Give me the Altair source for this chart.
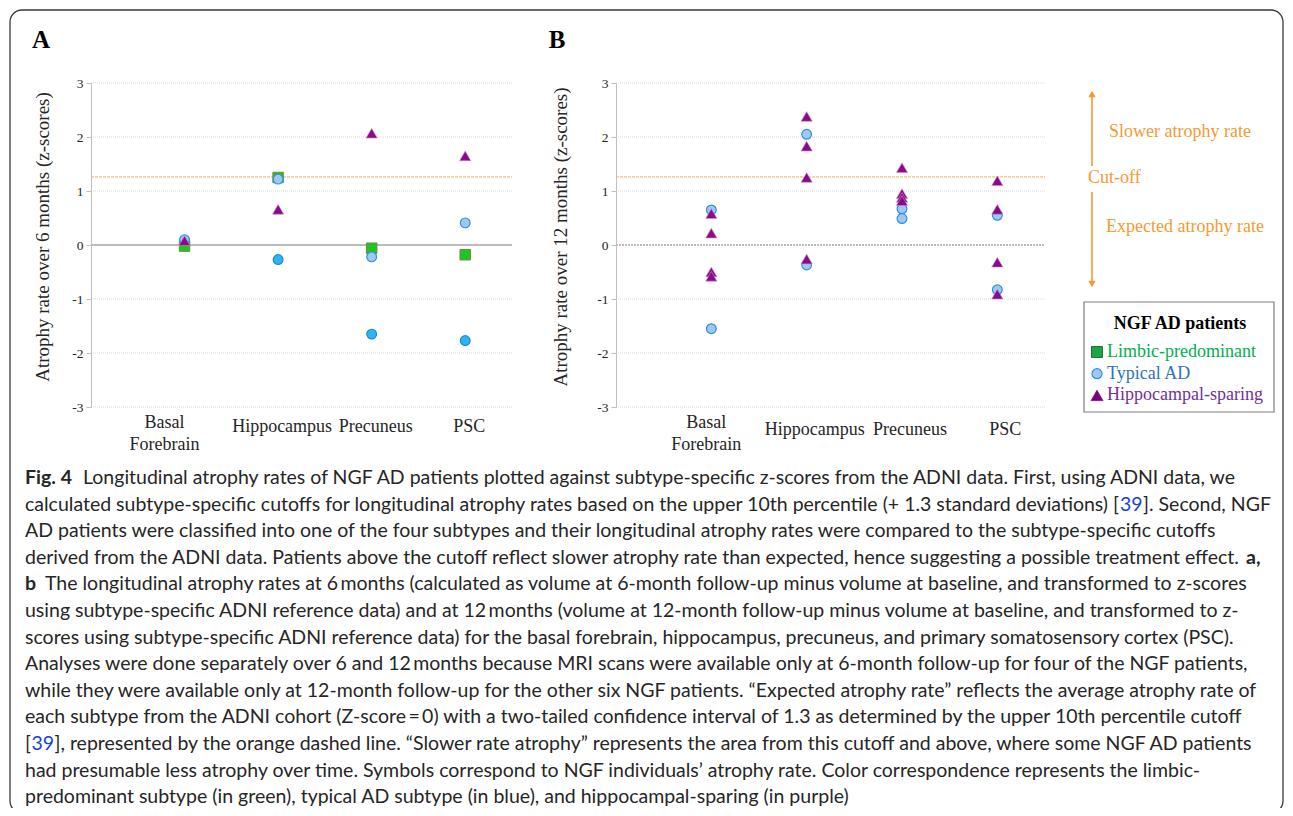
import altair as alt
import pandas as pd

# ---------------- data ----------------
regions = ["Basal Forebrain", "Hippocampus", "Precuneus", "PSC"]
region_pos = [1, 2, 3, 4]
y_ticks = [-3, -2, -1, 0, 1, 2, 3]
grid_ticks = [-3, -2, -1, 1, 2, 3]
cutoff_z = 1.26

# Panel A - atrophy rate over 6 months (one value per region, None = not shown)
a_limbic = [-0.02, 1.25, -0.06, -0.18]
a_typical_1 = [0.10, 1.22, -0.22, 0.41]
a_typical_2 = [None, -0.27, -1.65, -1.77]
a_sparing = [0.08, 0.66, 2.07, 1.65]

# Panel B - atrophy rate over 12 months (several patients per region)
b_typical_basal = [0.65, -1.55]
b_typical_hippo = [2.05, -0.37]
b_typical_prec = [0.67, 0.49]
b_typical_psc = [0.55, -0.83]
b_sparing_basal = [0.58, 0.22, -0.50, -0.58]
b_sparing_hippo = [2.38, 1.83, 1.25, -0.26]
b_sparing_prec = [1.43, 0.95, 0.88, 0.82]
b_sparing_psc = [1.19, 0.66, -0.32, -0.91]

legend_items = ["Limbic-predominant", "Typical AD", "Hippocampal-sparing"]

# ---------------- styles ----------------
SERIF = "Liberation Serif"
CAPF = "Lato"
CAPSIZE = 19.5
INK = "#262626"
ORANGE = "#F59A33"
SQ_FILL, SQ_STROKE = "#22C322", "#6E8B3D"
C1_FILL, C1_STROKE = "#9DC8F2", "#2F8FDF"
C2_FILL, C2_STROKE = "#2DB5F3", "#1C8AD6"
TRI_FILL = "#8B0A8B"


def one_row():
    return pd.DataFrame({"k": [0]})


def series_df(values):
    return pd.DataFrame(
        [{"pos": p, "z": v} for p, v in zip(region_pos, values) if v is not None]
    )


def multi_df(groups):
    rows = []
    for p, vals in zip(region_pos, groups):
        for v in vals:
            rows.append({"pos": p, "z": v})
    return pd.DataFrame(rows)


def panel(x_range, axis_offset, point_layers, zero_dash, basal_dx, other_dx, lab_y):
    xs = alt.Scale(domain=[0, 4.5], range=x_range)
    ys = alt.Scale(domain=[-3, 3], range=[399, 75], nice=False, zero=False)
    yaxis = alt.Axis(
        orient="left", offset=axis_offset, values=y_ticks, grid=False, title=None,
        domainColor="#BFBFBF", tickColor="#BFBFBF", tickSize=5, labelPadding=3,
        labelFont=SERIF, labelFontSize=13.5, labelColor="#262626", zindex=1,
        labelExpr="'' + datum.value",
    )

    def Y(field="z"):
        return alt.Y(f"{field}:Q", scale=ys, axis=yaxis)

    xa = dict(scale=xs, axis=None)

    grid = alt.Chart(pd.DataFrame({"z": grid_ticks})).mark_rule(
        color="#D9D9D9", strokeDash=[1, 1], strokeWidth=1
    ).encode(y=Y(), x=alt.X(datum=0, **xa), x2=alt.X2(datum=4.5))

    zero = alt.Chart(pd.DataFrame({"z": [0]})).mark_rule(
        color="#A6A6A6", strokeWidth=1.5, strokeDash=zero_dash
    ).encode(y=Y(), x=alt.X(datum=0, **xa), x2=alt.X2(datum=4.5))

    cut = alt.Chart(pd.DataFrame({"z": [cutoff_z]})).mark_rule(
        color="#F9BE74", strokeWidth=1.3, strokeDash=[3, 1]
    ).encode(y=Y(), x=alt.X(datum=0, **xa), x2=alt.X2(datum=4.5))

    layers = [grid, zero, cut]
    for df, style in point_layers:
        layers.append(
            alt.Chart(df).mark_point(filled=True, opacity=1, **style).encode(
                x=alt.X("pos:Q", **xa), y=Y()
            )
        )

    lab_df = pd.DataFrame({"pos": region_pos, "label": regions})
    first = alt.Chart(lab_df[lab_df.pos == 1]).transform_calculate(
        lab="replace(datum.label, ' ', '\\n')"
    ).mark_text(
        font=SERIF, fontSize=18, color=INK, lineBreak="\n", lineHeight=22,
        baseline="middle", dx=basal_dx,
    ).encode(x=alt.X("pos:Q", **xa), y=alt.value(415), text="lab:N")
    others = alt.Chart(lab_df[lab_df.pos > 1]).mark_text(
        font=SERIF, fontSize=18, color=INK, baseline="middle", dx=other_dx,
    ).encode(x=alt.X("pos:Q", **xa), y=alt.value(lab_y), text="label:N")
    layers += [first, others]
    return alt.layer(*layers)


sq_style = dict(shape="square", size=110, fill=SQ_FILL, stroke=SQ_STROKE, strokeWidth=1)
c1_style = dict(shape="circle", size=95, fill=C1_FILL, stroke=C1_STROKE, strokeWidth=1.2)
c2_style = dict(shape="circle", size=95, fill=C2_FILL, stroke=C2_STROKE, strokeWidth=1.2)
tri_style = dict(shape="triangle-up", size=125, fill=TRI_FILL, stroke="#C98FC9", strokeWidth=0.6)

panel_a = panel(
    [83, 504], -83,
    [
        (series_df(a_limbic), sq_style),
        (series_df(a_typical_2), c2_style),
        (series_df(a_typical_1), c1_style),
        (series_df(a_sparing), tri_style),
    ],
    [1, 0], -20, 4, 419,
)

panel_b = panel(
    [608, 1037], -608,
    [
        (multi_df([b_typical_basal, b_typical_hippo, b_typical_prec, b_typical_psc]), c1_style),
        (multi_df([b_sparing_basal, b_sparing_hippo, b_sparing_prec, b_sparing_psc]), tri_style),
    ],
    [2, 1], -5, 8, 422,
)


# ---------------- decorations / text ----------------
def txt(text, x, y, **kw):
    style = dict(font=SERIF, fontSize=18, color=INK, align="left", baseline="middle")
    style.update(kw)
    return alt.Chart(one_row()).mark_text(text=text, **style).encode(
        x=alt.value(x), y=alt.value(y)
    )


deco = []
# panel letters
deco.append(txt("A", 33, 32, fontSize=25, fontWeight="bold", align="center", color="#000000"))
deco.append(txt("B", 549, 32, fontSize=25, fontWeight="bold", align="center", color="#000000"))
# y titles
deco.append(txt("Atrophy rate over 6 months (z-scores)", 35, 229, fontSize=19, angle=270, align="center"))
deco.append(txt("Atrophy rate over 12 months (z-scores)", 553, 229, fontSize=19, angle=270, align="center"))

# orange annotations
deco.append(
    alt.Chart(one_row()).mark_rule(color=ORANGE, strokeWidth=1.6).encode(
        x=alt.value(1084), y=alt.value(88), y2=alt.value(158)
    )
)
deco.append(
    alt.Chart(one_row()).mark_rule(color=ORANGE, strokeWidth=1.6).encode(
        x=alt.value(1084), y=alt.value(184), y2=alt.value(274)
    )
)
deco.append(
    alt.Chart(one_row()).mark_point(shape="triangle-up", size=55, filled=True, color=ORANGE, opacity=1).encode(
        x=alt.value(1084), y=alt.value(86)
    )
)
deco.append(
    alt.Chart(one_row()).mark_point(shape="triangle-down", size=55, filled=True, color=ORANGE, opacity=1).encode(
        x=alt.value(1084), y=alt.value(276)
    )
)
deco.append(txt("Slower atrophy rate", 1101, 124, color=ORANGE))
deco.append(txt("Cut-off", 1080, 170, color=ORANGE))
deco.append(txt("Expected atrophy rate", 1098, 219, color=ORANGE))

# legend box
deco.append(
    alt.Chart(one_row()).mark_rect(fill="white", stroke="#7F7F7F", strokeWidth=1.2).encode(
        x=alt.value(1076), x2=alt.value(1266), y=alt.value(294), y2=alt.value(404)
    )
)
deco.append(txt("NGF AD patients", 1172, 316, fontWeight="bold", align="center", color="#000000"))
leg_sym = [
    dict(shape="square", size=120, fill="#14A84A", stroke="#2F6B34", strokeWidth=1),
    dict(shape="circle", size=100, fill=C1_FILL, stroke=C1_STROKE, strokeWidth=1.2),
    dict(shape="triangle-up", size=150, fill="#7B007B", stroke="#7B007B", strokeWidth=0.5),
]
leg_col = ["#00B050", "#2E75B6", "#7030A0"]
for i, (name, sty, col) in enumerate(zip(legend_items, leg_sym, leg_col)):
    yy = 344 + i * 21.7
    deco.append(
        alt.Chart(one_row()).mark_point(filled=True, opacity=1, **sty).encode(
            x=alt.value(1089), y=alt.value(yy)
        )
    )
    deco.append(txt(name, 1099, yy, color=col))

# caption
BLUE = "#1A3FE0"
CY0, CLH = 476, 26.6
caption = [
    [(17, "Fig. 4", "bold", INK, "left"),
     (75, "Longitudinal atrophy rates of NGF AD patients plotted against subtype-specific z-scores from the ADNI data. First, using ADNI data, we", "normal", INK, "left")],
    [(17, "calculated subtype-specific cutoffs for longitudinal atrophy rates based on the upper 10th percentile (+ 1.3 standard deviations) [", "normal", INK, "left"),
     (1112, "39", "normal", BLUE, "left"),
     (1135, "]. Second, NGF", "normal", INK, "left")],
    [(17, "AD patients were classified into one of the four subtypes and their longitudinal atrophy rates were compared to the subtype-specific cutoffs", "normal", INK, "left")],
    [(17, "derived from the ADNI data. Patients above the cutoff reflect slower atrophy rate than expected, hence suggesting a possible treatment effect.", "normal", INK, "left"),
     (1238, "a,", "bold", INK, "left")],
    [(17, "b", "bold", INK, "left"),
     (37, "The longitudinal atrophy rates at 6\u2009months (calculated as volume at 6-month follow-up minus volume at baseline, and transformed to z-scores", "normal", INK, "left")],
    [(17, "using subtype-specific ADNI reference data) and at 12\u2009months (volume at 12-month follow-up minus volume at baseline, and transformed to z-", "normal", INK, "left")],
    [(17, "scores using subtype-specific ADNI reference data) for the basal forebrain, hippocampus, precuneus, and primary somatosensory cortex (PSC).", "normal", INK, "left")],
    [(17, "Analyses were done separately over 6 and 12\u2009months because MRI scans were available only at 6-month follow-up for four of the NGF patients,", "normal", INK, "left")],
    [(17, "while they were available only at 12-month follow-up for the other six NGF patients. \u201cExpected atrophy rate\u201d reflects the average atrophy rate of", "normal", INK, "left")],
    [(17, "each subtype from the ADNI cohort (Z-score\u2009=\u20090) with a two-tailed confidence interval of 1.3 as determined by the upper 10th percentile cutoff", "normal", INK, "left")],
    [(17, "[", "normal", INK, "left"),
     (23.5, "39", "normal", BLUE, "left"),
     (46.5, "], represented by the orange dashed line. \u201cSlower rate atrophy\u201d represents the area from this cutoff and above, where some NGF AD patients", "normal", INK, "left")],
    [(17, "had presumable less atrophy over time. Symbols correspond to NGF individuals\u2019 atrophy rate. Color correspondence represents the limbic-", "normal", INK, "left")],
    [(17, "predominant subtype (in green), typical AD subtype (in blue), and hippocampal-sparing (in purple)", "normal", INK, "left")],
]
for i, segs in enumerate(caption):
    for (x, t, w, c, a) in segs:
        deco.append(
            txt(t, x, CY0 + i * CLH, font=CAPF, fontSize=CAPSIZE, fontWeight=w, color=c,
                align=a, baseline="alphabetic")
        )

# border (drawn last, no fill)
deco.append(
    alt.Chart(one_row()).mark_rect(
        fillOpacity=0, fill="white", stroke="#3A3A3A", strokeWidth=1.3, cornerRadius=12
    ).encode(x=alt.value(2), x2=alt.value(1275), y=alt.value(2), y2=alt.value(805))
)

chart = alt.layer(panel_a, panel_b, *deco).resolve_scale(
    x="independent", y="independent"
).properties(
    width=1277, height=800, autosize=alt.AutoSizeParams(type="none"), padding=0,
    background="white",
).configure_view(stroke=None)

chart.save("out.html", embed_options={"renderer": "svg", "actions": False})
